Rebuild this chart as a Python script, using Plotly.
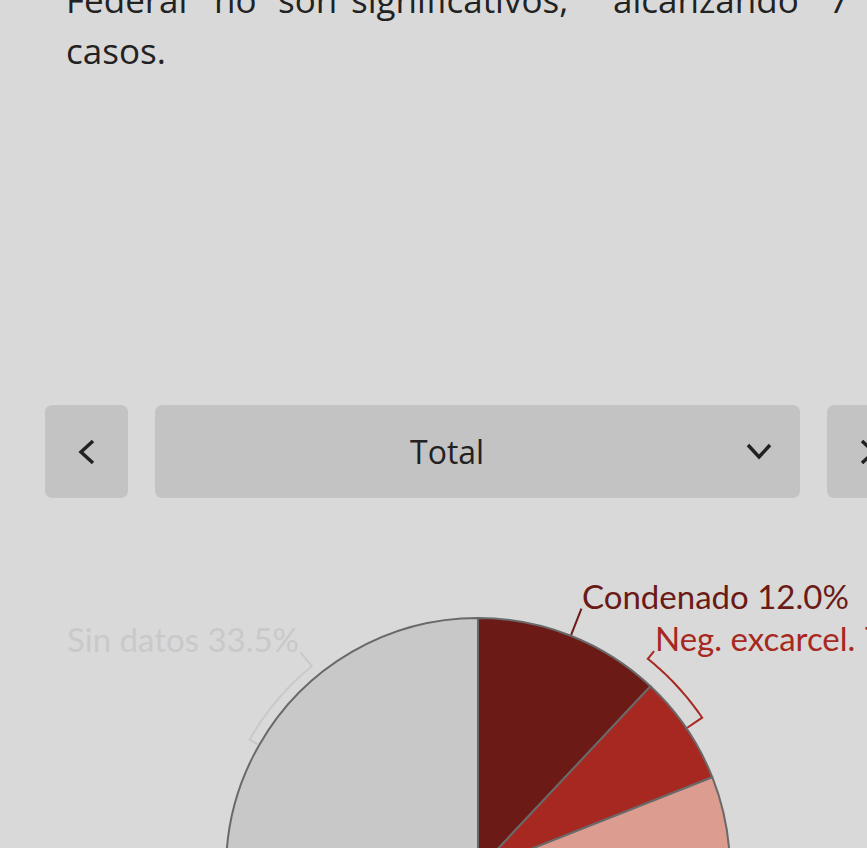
import math
import plotly.graph_objects as go

# ---------------- data ----------------
categories = ["Condenado", "Neg. excarcel.", "Procesado", "Sobreseído", "Otros", "Sin datos"]
shares = [12.0, 7.0, 22.0, 15.0, 10.5, 33.5]
slice_colors = ["#6b1a15", "#a72820", "#dc9c8f", "#e8c4bb", "#b5b5b5", "#c8c8c8"]
label_colors = ["#6b1a15", "#a72820", "#dc9c8f", "#e8c4bb", "#b5b5b5", "#c9c9c9"]
shown_labels = ["Condenado", "Neg. excarcel.", "Sin datos"]
selector_label = "Total"
para_line1 = ["Federal", "no", "son", "significativos,", "alcanzando", "7"]
para_line2 = "casos."

# ---------------- layout constants ----------------
W, H = 867, 1140
CX, CY, R = 478, 870, 252
R_BRACKET = {"Neg. excarcel.": 271, "Sin datos": 263}
R_LABEL = 281
LABEL_ANGLE = {"Condenado": None, "Neg. excarcel.": 38.8, "Sin datos": -39.2}
BG = "#d9d9d9"
BTN = "#c3c3c3"
INK = "#222222"


def px(x):
    return x / W


def py(y):
    return 1 - y / H


def polar(angle_deg, rad):
    a = math.radians(angle_deg)
    return CX + rad * math.sin(a), CY - rad * math.cos(a)


def rrect(x0, y0, x1, y1, r=8):
    pts = [
        f"M {px(x0 + r)},{py(y0)}", f"L {px(x1 - r)},{py(y0)}",
        f"Q {px(x1)},{py(y0)} {px(x1)},{py(y0 + r)}", f"L {px(x1)},{py(y1 - r)}",
        f"Q {px(x1)},{py(y1)} {px(x1 - r)},{py(y1)}", f"L {px(x0 + r)},{py(y1)}",
        f"Q {px(x0)},{py(y1)} {px(x0)},{py(y1 - r)}", f"L {px(x0)},{py(y0 + r)}",
        f"Q {px(x0)},{py(y0)} {px(x0 + r)},{py(y0)}", "Z",
    ]
    return " ".join(pts)


def polyline(points):
    return "M " + " L ".join(f"{px(x)},{py(y)}" for x, y in points)


shapes = []
annotations = []


def add_text(text, x, baseline, size, color, family, xanchor="left"):
    annotations.append(dict(
        text=text, x=px(x), y=py(baseline - 0.388 * size), xref="paper", yref="paper",
        xanchor=xanchor, yanchor="middle", showarrow=False,
        font=dict(size=size, color=color, family=family), borderpad=0,
    ))


# paragraph text (justified line: one annotation per word)
BODY_FONT = "Open Sans, Noto Sans, sans-serif"
word_x = [65, 213, 277, 350, 612, 828]
for w, x in zip(para_line1, word_x):
    add_text(w, x, 13, 35, INK, BODY_FONT)
add_text(para_line2, 65, 64, 35, INK, BODY_FONT)

# selector buttons
for x0, x1 in [(45, 128), (155, 800), (827, 900)]:
    shapes.append(dict(type="path", path=rrect(x0, 405, x1, 498), xref="paper", yref="paper",
                       fillcolor=BTN, line=dict(width=0), layer="below"))
chev = dict(color=INK, width=3.5)
shapes.append(dict(type="path", path=polyline([(93, 441), (81, 452), (93, 463)]),
                   xref="paper", yref="paper", line=chev))
shapes.append(dict(type="path", path=polyline([(748, 445), (759, 457), (770, 445)]),
                   xref="paper", yref="paper", line=chev))
shapes.append(dict(type="path", path=polyline([(862, 441), (874, 452), (862, 463)]),
                   xref="paper", yref="paper", line=chev))
add_text(selector_label, 447, 464, 32, INK, BODY_FONT, xanchor="center")

# pie
fig = go.Figure(go.Pie(
    labels=categories, values=shares, sort=False, direction="clockwise", rotation=0,
    marker=dict(colors=slice_colors, line=dict(color="#696969", width=2)),
    textinfo="none", hoverinfo="label+percent", showlegend=False,
    domain=dict(x=[px(CX - R), px(CX + R)], y=[py(CY + R), py(CY - R)]),
))

# leader lines and labels, computed from the shares
LABEL_FONT = "Lato, PT Sans, sans-serif"
total = sum(shares)
cum = 0.0
for cat, val, col in zip(categories, shares, label_colors):
    mid = (cum + val / 2) / total * 360
    cum += val
    if cat not in shown_labels:
        continue
    mid_signed = mid if mid <= 180 else mid - 360
    la = LABEL_ANGLE[cat] if LABEL_ANGLE[cat] is not None else mid_signed
    if cat in R_BRACKET:
        rb = R_BRACKET[cat]
        step = 1 if la > mid_signed else -1
        arc_angles = [mid_signed + step * k * 0.5 for k in range(int(abs(la - mid_signed) / 0.5) + 1)] + [la]
        pts = [polar(mid_signed, R + 1)] + [polar(a, rb) for a in arc_angles] + [polar(la, R_LABEL)]
    else:
        pts = [polar(mid_signed, R + 1), polar(la, R_LABEL)]
    shapes.append(dict(type="path", path=polyline(pts), xref="paper", yref="paper",
                       line=dict(color=col, width=2)))
    lx, ly = polar(la, R_LABEL)
    add_text(f"{cat} {val:.1f}%", lx, ly, 33, col, LABEL_FONT,
             xanchor="left" if la >= 0 else "right")

fig.update_layout(
    width=W, height=H, margin=dict(l=0, r=0, t=0, b=0),
    paper_bgcolor=BG, plot_bgcolor=BG,
    shapes=shapes, annotations=annotations, showlegend=False,
)

js = ("var gd=document.getElementById('{plot_id}');"
      "gd.parentElement.style.height='848px';gd.parentElement.style.overflow='hidden';"
      "document.body.style.margin='0';document.body.style.overflow='hidden';"
      "document.documentElement.style.overflow='hidden';")
fig.write_html("out.html", post_script=js, config={"displayModeBar": False})
